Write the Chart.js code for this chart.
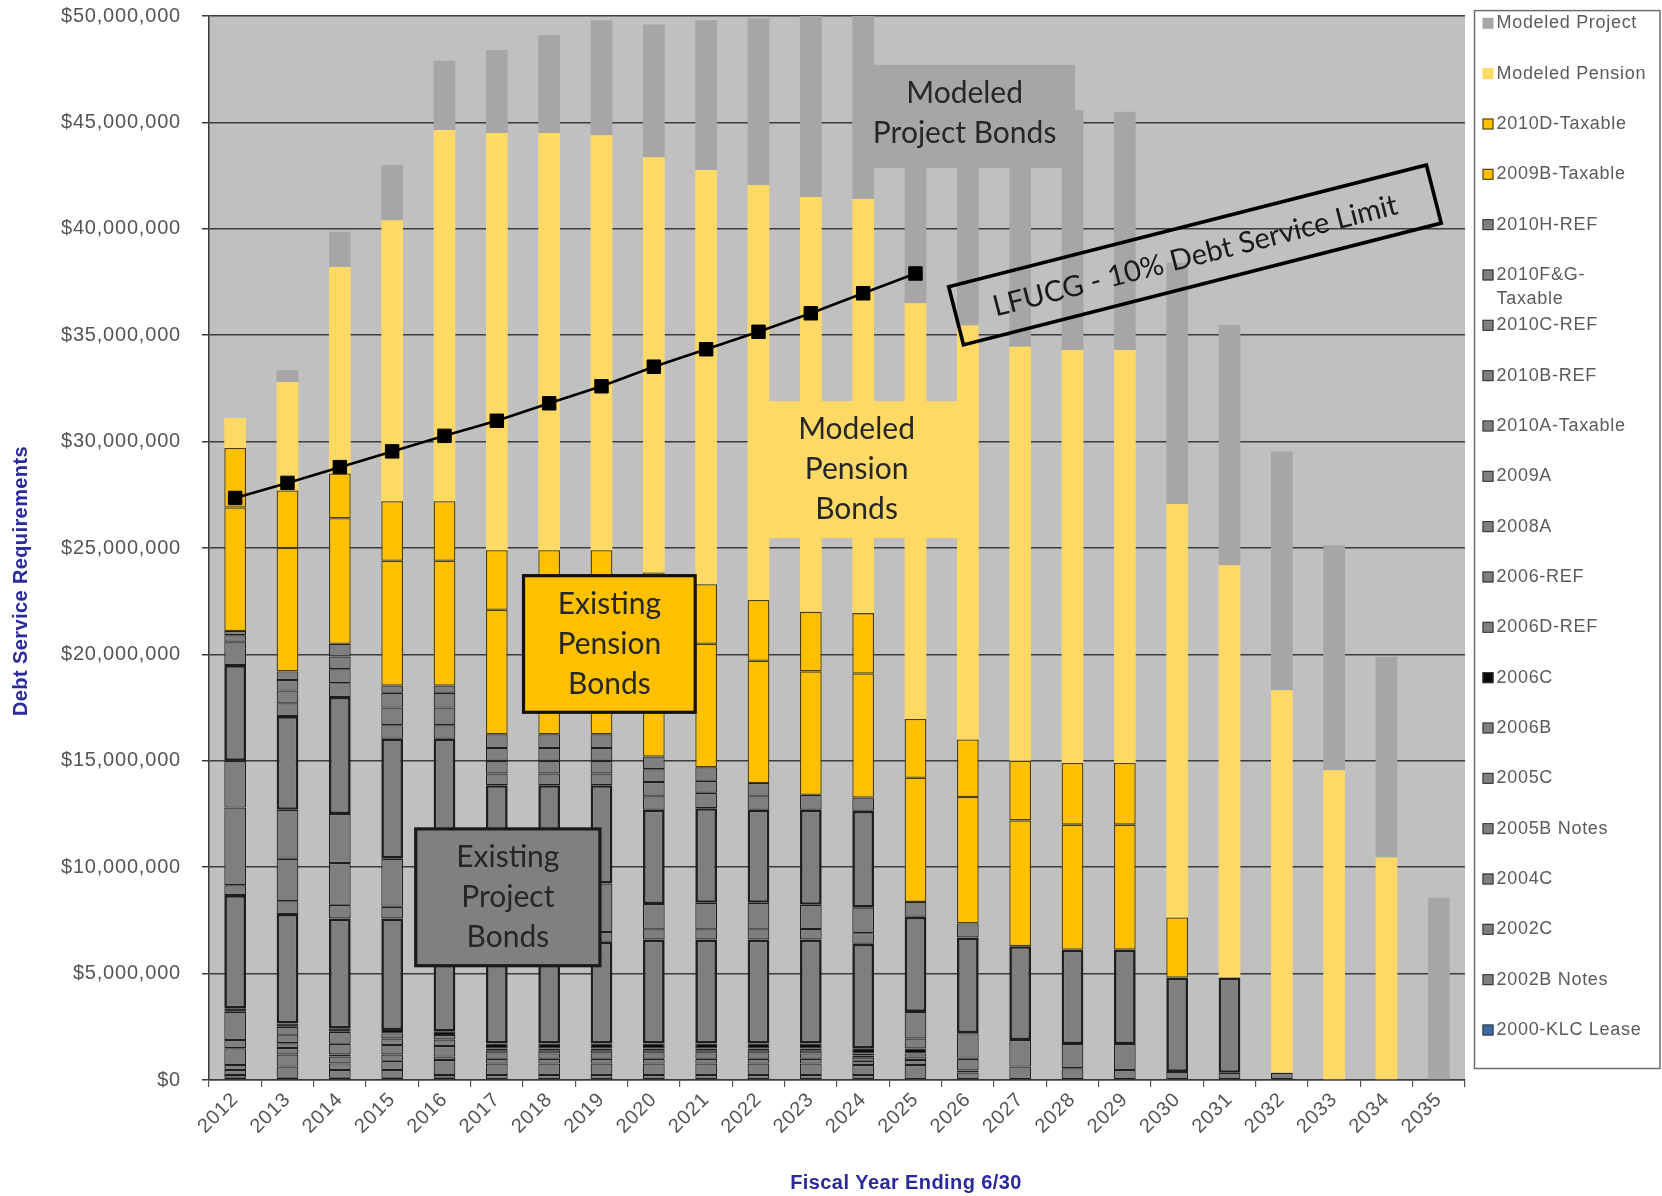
<!DOCTYPE html>
<html>
<head>
<meta charset="utf-8">
<script src="https://cdn.jsdelivr.net/npm/chart.js@4.4.1/dist/chart.umd.min.js"></script>
<style>
html,body{margin:0;padding:0;background:#ffffff;}
canvas{display:block;}
</style>
</head>
<body>
<canvas id="c" width="1662" height="1196"></canvas>
<script>
// ---------- DATA (values in $ millions) ----------
const years = ['2012','2013','2014','2015','2016','2017','2018','2019','2020','2021','2022','2023',
               '2024','2025','2026','2027','2028','2029','2030','2031','2032','2033','2034','2035'];
const yTickMax = 50;
const yTickStep = 5;

// Existing project bonds (stack order, bottom first)
const klc2000Lease   = [0.1,0.1,0.1,0.1,0.1,0,0,0,0,0,0,0,0,0,0,0,0,0,0,0,0,0,0,0];
const notes2002B     = [0.13,0.53,0.37,0.37,0.13,0.23,0.23,0.23,0.23,0.23,0.23,0.23,0.23,0.7,0.35,0.63,0.55,0.47,0.38,0.34,0.34,0,0,0];
const bonds2002C     = [0.24,0.57,0.31,0.43,0.71,0.54,0.54,0.54,0.54,0.54,0.54,0.54,0.47,0.24,0,0,0,0,0,0,0,0,0,0];
const bonds2004C     = [0.23,0.30,0.32,0.30,0.16,0.23,0.23,0.23,0.23,0.23,0.23,0.23,0.2,0.16,0,0,0,0,0,0,0,0,0,0];
const notes2005B     = [0.79,0.23,0.10,0.45,0.5,0.25,0.25,0.25,0.25,0.25,0.25,0.25,0.15,0.15,0,0,0,0,0,0,0,0,0,0];
const bonds2005C     = [0.39,0.4,0.5,0.3,0.3,0.13,0.13,0.13,0.13,0.13,0.13,0.13,0.1,0,0,0,0,0,0,0,0,0,0,0];
const bonds2006B     = [1.33,0.37,0.57,0.24,0.21,0.1,0.1,0.1,0.1,0.1,0.1,0.1,0.1,0,0,0,0,0,0,0,0,0,0,0];
const bonds2006C     = [0.16,0.16,0.16,0.16,0.16,0.24,0.24,0.24,0.24,0.24,0.24,0.24,0.24,0.23,0.1,0,0,0,0,0,0,0,0,0];
const ref2006D       = [5.32,5.14,5.16,5.24,5.30,4.78,4.78,4.78,4.88,4.88,4.88,4.88,4.91,0,0,0,0,0,0,0,0,0,0,0];
const ref2006        = [0.46,0.6,0.64,0.55,0.6,0.46,0.46,0.46,0.48,0.48,0.48,0.5,0.5,0.47,0.55,0,0,0,0,0,0,0,0,0];
const bonds2008A     = [3.65,2.0,1.97,2.26,2.23,2.27,2.27,2.27,1.19,1.25,1.25,1.13,1.2,1.25,1.2,1.25,1.14,1.22,0,0,0,0,0,0];
const bonds2009A     = [2.2,2.3,2.3,0,0,0,0,0,0,0,0,0,0,0,0,0,0,0,0,0,0,0,0,0];
const taxable2010A   = [4.5,4.4,5.5,5.64,5.64,4.62,4.62,4.62,4.43,4.44,4.37,4.47,4.55,4.47,4.5,4.41,4.44,4.44,4.44,4.48,0,0,0,0];
const ref2010B       = [1.1,0.6,0.65,0.63,0.63,0.55,0.55,0.55,0.63,0.73,0.63,0.7,0.62,0.7,0.66,0,0,0,0,0,0,0,0,0];
const ref2010C       = [0.3,0.6,0.65,0.83,0.83,0.6,0.6,0.6,0.67,0.56,0.63,0,0,0,0,0,0,0,0,0,0,0,0,0];
const taxable2010FG  = [0.2,0.5,0.6,0.7,0.7,0.6,0.6,0.6,0.6,0.64,0,0,0,0,0,0,0,0,0,0,0,0,0,0];
const ref2010H       = [0,0.4,0.6,0.34,0.34,0.65,0.65,0.65,0.6,0,0,0,0,0,0,0,0,0,0,0,0,0,0,0];
// Existing pension bonds
const taxable2009B   = [5.8,5.8,5.9,5.86,5.86,5.85,5.85,5.85,5.6,5.8,5.74,5.8,5.83,5.83,5.94,5.91,5.87,5.87,0,0,0,0,0,0];
const taxable2010D   = [2.8,2.7,2.1,2.8,2.8,2.8,2.8,2.8,3.05,2.8,2.86,2.8,2.84,2.77,2.7,2.8,2.9,2.9,2.82,0,0,0,0,0];
// Modeled
const modeledPension = [1.4,5.1,9.7,13.2,17.44,19.6,19.6,19.5,19.51,19.46,19.5,19.5,19.46,19.53,19.45,19.46,19.4,19.4,19.43,19.37,17.97,14.56,10.45,0];
const modeledProject = [0,0.56,1.66,2.6,3.26,3.9,4.6,5.4,6.24,7.04,7.84,8.55,8.6,10.3,10.8,11.2,11.28,11.2,11.33,11.29,11.23,10.57,9.44,8.56];
// LFUCG 10% debt service limit
const debtServiceLimit = [27.35,28.06,28.8,29.54,30.27,30.98,31.8,32.6,33.52,34.34,35.16,36.03,36.97,37.9,null,null,null,null,null,null,null,null,null,null];

// ---------- STYLES ----------
const GRAY = '#7f7f7f', EDGE = '#1e1e1e', ORANGE = '#ffc000', ORANGE_EDGE = '#4d3d00';
const barDefs = [
  ['2000-KLC Lease',  klc2000Lease,  '#3b6aa3', EDGE, 1],
  ['2002B Notes',     notes2002B,    GRAY, EDGE, 1.2],
  ['2002C',           bonds2002C,    GRAY, EDGE, 1.2],
  ['2004C',           bonds2004C,    GRAY, EDGE, 1.2],
  ['2005B Notes',     notes2005B,    GRAY, EDGE, 1.2],
  ['2005C',           bonds2005C,    GRAY, EDGE, 1.2],
  ['2006B',           bonds2006B,    GRAY, EDGE, 1.2],
  ['2006C',           bonds2006C,    '#0a0a0a', EDGE, 1],
  ['2006D-REF',       ref2006D,      GRAY, EDGE, 2.6],
  ['2006-REF',        ref2006,       GRAY, EDGE, 1.2],
  ['2008A',           bonds2008A,    GRAY, EDGE, 1.2],
  ['2009A',           bonds2009A,    GRAY, EDGE, 1.2],
  ['2010A-Taxable',   taxable2010A,  GRAY, EDGE, 2.6],
  ['2010B-REF',       ref2010B,      GRAY, EDGE, 1.2],
  ['2010C-REF',       ref2010C,      GRAY, EDGE, 1.2],
  ['2010F&G-Taxable', taxable2010FG, GRAY, EDGE, 1.2],
  ['2010H-REF',       ref2010H,      GRAY, EDGE, 1.2],
  ['2009B-Taxable',   taxable2009B,  ORANGE, ORANGE_EDGE, 1.3],
  ['2010D-Taxable',   taxable2010D,  ORANGE, ORANGE_EDGE, 1.3],
  ['Modeled Pension', modeledPension,'#ffd966', '#ffd966', 0],
  ['Modeled Project', modeledProject,'#a6a6a6', '#a6a6a6', 0]
];

const datasets = barDefs.map(([label, data, bg, bc, bw]) => ({
  type: 'bar', label, data, backgroundColor: bg, borderColor: bc, borderWidth: bw,
  borderSkipped: false, stack: 'debt', order: 1,
  barPercentage: 0.415, categoryPercentage: 1.0
}));
datasets.push({
  type: 'line', label: 'LFUCG - 10% Debt Service Limit', data: debtServiceLimit,
  borderColor: '#000', borderWidth: 2.6, backgroundColor: '#000',
  pointStyle: 'rect', pointRadius: 9.5, pointBackgroundColor: '#000', pointBorderColor: '#000', pointBorderWidth: 1,
  stack: 'limit', order: 0, fill: false, tension: 0, spanGaps: false
});

// ---------- ANNOTATIONS (positions in category index / $M) ----------
const textBoxes = [
  { lines: ['Modeled', 'Project Bonds'], x0: 11.98, x1: 16.05, y0: 42.86, y1: 47.7, fill: '#a6a6a6', stroke: null, dy: -3, dx: -4 },
  { lines: ['Modeled', 'Pension', 'Bonds'], x0: 9.80, x1: 14.10, y0: 25.47, y1: 31.9, fill: '#ffd966', stroke: null, dy: 0, dx: -4 },
  { lines: ['Existing', 'Pension', 'Bonds'], x0: 5.51, x1: 8.79, y0: 17.28, y1: 23.7, fill: '#ffc000', stroke: '#111', dy: 0, dx: 0 },
  { lines: ['Existing', 'Project', 'Bonds'], x0: 3.45, x1: 6.97, y0: 5.37, y1: 11.8, fill: '#808080', stroke: '#1a1a1a', dy: 0, dx: 0 }
];
const limitLabel = { text: 'LFUCG - 10% Debt Service Limit', cx: 18.34, cy: 38.77, w: 493, h: 60, angleDeg: -14.3 };

const bgPlugin = {
  id: 'bg',
  beforeDraw(chart) {
    const { ctx, chartArea: a } = chart;
    ctx.save();
    ctx.fillStyle = '#ffffff';
    ctx.fillRect(0, 0, chart.width, chart.height);
    ctx.fillStyle = '#c0c0c0';
    ctx.fillRect(a.left, a.top, a.right - a.left, a.bottom - a.top);
    ctx.restore();
    ctx.letterSpacing = '0.8px';
  }
};

const annotationPlugin = {
  id: 'annot',
  afterDatasetsDraw(chart) {
    const { ctx } = chart;
    const xs = chart.scales.x, ys = chart.scales.y;
    ctx.save();
    ctx.letterSpacing = '0px';
    textBoxes.forEach(b => {
      const l = xs.getPixelForValue(b.x0), r = xs.getPixelForValue(b.x1);
      const t = ys.getPixelForValue(b.y1), bt = ys.getPixelForValue(b.y0);
      ctx.fillStyle = b.fill;
      ctx.fillRect(l, t, r - l, bt - t);
      if (b.stroke) { ctx.lineWidth = 3.2; ctx.strokeStyle = b.stroke; ctx.strokeRect(l, t, r - l, bt - t); }
      ctx.fillStyle = '#262626';
      ctx.font = '30px Lato';
      ctx.textAlign = 'center'; ctx.textBaseline = 'middle';
      const cx = (l + r) / 2 + b.dx, cy = (t + bt) / 2 + b.dy;
      const lh = 40;
      b.lines.forEach((s, i) => ctx.fillText(s, cx, cy + (i - (b.lines.length - 1) / 2) * lh));
    });
    // rotated limit label box
    const px = xs.getPixelForValue(limitLabel.cx), py = ys.getPixelForValue(limitLabel.cy);
    ctx.translate(px, py);
    ctx.rotate(limitLabel.angleDeg * Math.PI / 180);
    ctx.lineWidth = 3.6; ctx.strokeStyle = '#000';
    ctx.strokeRect(-limitLabel.w / 2, -limitLabel.h / 2, limitLabel.w, limitLabel.h);
    ctx.fillStyle = '#1a1a1a';
    ctx.font = '29px Lato';
    ctx.textAlign = 'center'; ctx.textBaseline = 'middle';
    ctx.fillText(limitLabel.text, 0, 1);
    ctx.restore();
  }
};

const titlesLegendPlugin = {
  id: 'titlesLegend',
  afterDraw(chart) {
    const { ctx, chartArea: a } = chart;
    ctx.save();
    // axis titles
    ctx.fillStyle = '#2a2a9c';
    ctx.font = 'bold 20px "Liberation Sans"';
    ctx.letterSpacing = '0.4px';
    ctx.textAlign = 'center'; ctx.textBaseline = 'middle';
    ctx.fillText('Fiscal Year Ending 6/30', a.left + 697, 1183);
    ctx.save();
    ctx.translate(21, a.top + 565);
    ctx.rotate(-Math.PI / 2);
    ctx.fillText('Debt Service Requirements', 0, 0);
    ctx.restore();

    // legend
    const boxL = a.right + 9.5, boxT = a.top - 5.4, boxR = chart.width - 2, boxB = a.bottom - 11.5;
    ctx.fillStyle = '#ffffff';
    ctx.fillRect(boxL, boxT, boxR - boxL, boxB - boxT);
    ctx.strokeStyle = '#6e6e6e'; ctx.lineWidth = 1.5;
    ctx.strokeRect(boxL, boxT, boxR - boxL, boxB - boxT);
    const items = chart.data.datasets.filter(d => d.type === 'bar').slice().reverse();
    const first = boxT + 12.7, last = boxB - 38.5;
    const step = (last - first) / (items.length - 1);
    ctx.font = '18px "Liberation Sans"';
    ctx.letterSpacing = '0.7px';
    ctx.textAlign = 'left'; ctx.textBaseline = 'middle';
    const maxW = 152;
    items.forEach((d, i) => {
      const y = first + i * step;
      const mx = boxL + 8, ms = 11;
      ctx.fillStyle = d.backgroundColor;
      ctx.fillRect(mx, y - ms / 2, ms, ms);
      if (d.borderWidth > 0) { ctx.strokeStyle = '#333'; ctx.lineWidth = 1; ctx.strokeRect(mx + 0.5, y - ms / 2 + 0.5, ms - 1, ms - 1); }
      ctx.fillStyle = '#5a5a5a';
      let lines = [d.label];
      if (ctx.measureText(d.label).width > maxW && d.label.indexOf('-') > 0) {
        const k = d.label.lastIndexOf('-');
        lines = [d.label.slice(0, k + 1), d.label.slice(k + 1)];
      }
      lines.forEach((s, j) => ctx.fillText(s, boxL + 22, y + j * 24));
    });
    ctx.restore();
  }
};

const fmtDollar = v => '$' + Math.round(v * 1e6).toLocaleString('en-US');

new Chart(document.getElementById('c'), {
  type: 'bar',
  data: { labels: years, datasets },
  options: {
    responsive: false,
    animation: false,
    devicePixelRatio: 1,
    layout: { padding: { left: 0, right: 197, top: 16, bottom: 0 } },
    plugins: { legend: { display: false }, tooltip: { enabled: false }, title: { display: false } },
    scales: {
      x: {
        stacked: true,
        grid: { display: true, drawOnChartArea: false, drawTicks: true, tickLength: 7, offset: true, color: '#555', lineWidth: 1.2 },
        border: { display: true, color: '#3a3a3a', width: 1.5 },
        ticks: { minRotation: 45, maxRotation: 45, autoSkip: false, padding: 1, color: '#555555',
                 font: { family: '"Liberation Sans"', size: 20 } },
        afterFit: s => { s.height = 116; s.paddingLeft = 0; s.paddingRight = 0; }
      },
      y: {
        stacked: true, min: 0, max: yTickMax,
        grid: { color: '#3c3c3c', lineWidth: 1.5, tickLength: 7, drawTicks: true },
        border: { display: true, color: '#3a3a3a', width: 1.5 },
        ticks: { stepSize: yTickStep, callback: fmtDollar, padding: 21, color: '#555555',
                 font: { family: '"Liberation Sans"', size: 20 } },
        afterFit: s => { s.width = 209; s.paddingTop = 12; s.paddingBottom = 0; }
      }
    }
  },
  plugins: [bgPlugin, annotationPlugin, titlesLegendPlugin]
});
</script>
</body>
</html>
